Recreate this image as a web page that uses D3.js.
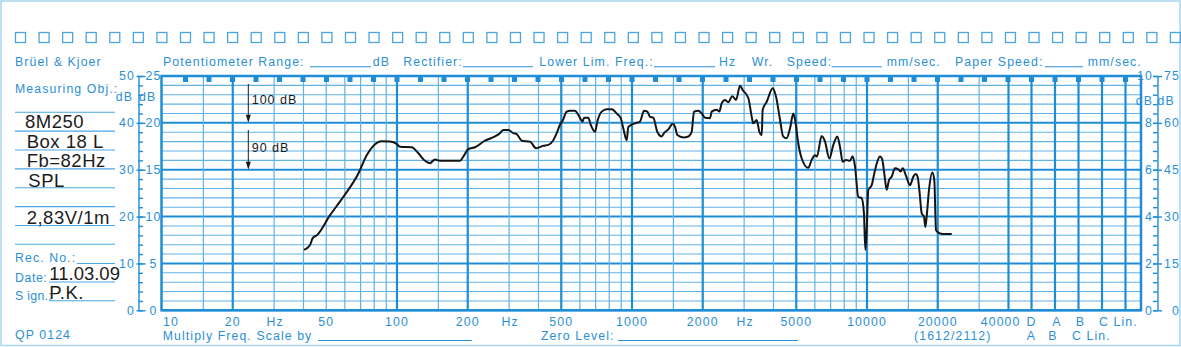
<!DOCTYPE html>
<html>
<head>
<meta charset="utf-8">
<script src="https://cdn.jsdelivr.net/npm/d3@7"></script>
<style>
  html, body { margin: 0; padding: 0; background: #fff; }
  svg { display: block; font-family: "Liberation Sans", Arial, sans-serif; }
  .bl { fill: #2b8fd5; font-size: 12.3px; letter-spacing: 1.1px; }
  .ink { fill: #1b1b1b; }
</style>
</head>
<body>
<svg id="chart" width="1181" height="347"></svg>
<script>
// ---- Measured response: frequency (Hz) and sound pressure level (dB SPL) ----
const freqHz = [
  40.2, 42.6, 43.8, 45.8, 51.9, 59.1, 68.5, 74.3, 79.3, 86.1, 93.3, 99.7, 103, 115.5, 123.3,
  131.6, 138.1, 145.1, 152.4, 185.4, 191.5, 201.2, 214.7, 236.9, 261.2, 274.3, 283.5, 297.6,
  312.6, 323, 339.4, 368.2, 390.4, 419.5, 440.5, 462.4, 478.2, 493.9, 507, 527.3, 544.6, 571.7,
  590.9, 616.7, 624.8, 651.7, 667, 696.1, 712.1, 743.1, 780.4, 819.6, 860.9, 895.4, 918.6, 949.2,
  964.5, 997, 1030, 1082, 1125, 1162, 1193, 1232, 1281, 1338, 1368, 1427, 1490, 1524, 1559, 1653,
  1737, 1795, 1836, 1916, 1980, 2045, 2148, 2183, 2292, 2353, 2408, 2487, 2569, 2672, 2771, 2882,
  2958, 3126, 3232, 3282, 3394, 3482, 3565, 3598, 3743, 3970, 4101, 4266, 4397, 4547, 4703, 4858,
  4944, 5102, 5275, 5625, 5816, 6008, 6119, 6414, 6628, 6914, 7190, 7476, 7674, 7882, 8140, 8466,
  8690, 8892, 9183, 9493, 9706, 9836, 9970, 10129, 10471, 10740, 11060, 11360, 11607, 11846, 12128,
  12405, 12735, 13155, 13591, 13914, 14190, 14655, 15241, 15743, 16108, 16418, 16697, 17094, 17484,
  17705, 17942, 18359, 18967, 19338, 19664, 20112, 21121, 22936
];
const splDb = [
  72.9, 73.9, 75.4, 76.1, 80.3, 84.2, 89.2, 93.1, 95.1, 96.1, 96.0, 95.5, 94.9, 94.8, 93.5,
  91.9, 91.4, 92.2, 91.9, 91.9, 92.8, 94.4, 94.8, 96.2, 97.1, 97.8, 98.5, 98.5,
  97.8, 97.6, 96.2, 96.0, 94.6, 95.1, 95.3, 96.3, 97.8, 99.6, 100.5, 102.4, 102.6, 102.6,
  101.7, 100.3, 101.1, 101.1, 99.6, 98.1, 100.3, 102.4, 102.9, 102.9, 102.0, 101.0, 98.8, 96.3,
  99.1, 99.6, 99.9, 100.3, 102.6, 102.4, 101.3, 101.1, 98.1, 97.1, 97.8, 98.6, 99.8, 99.2, 97.4, 96.9,
  97.1, 98.1, 102.4, 102.6, 102.0, 101.1, 101.0, 102.4, 102.8, 102.4, 104.2, 104.9, 104.4, 105.7, 104.9, 107.9,
  107.0, 105.3, 101.3, 99.9, 100.6, 98.1, 97.4, 102.8, 104.5, 107.4, 105.6, 100.6, 97.1, 96.7, 98.8, 102.0,
  100.6, 95.6, 92.4, 90.4, 92.1, 93.1, 92.8, 97.2, 96.0, 92.4, 95.3, 97.1, 94.9, 91.7, 92.1, 91.9,
  92.9, 90.7, 84.2, 83.9, 80.7, 72.9, 77.1, 85.7, 86.7, 89.2, 91.7, 92.8, 92.2, 89.2, 85.7,
  87.8, 88.5, 90.3, 90.1, 89.6, 90.3, 88.7, 86.7, 88.5, 89.1, 88.5, 85.7, 80.7, 80.0,
  77.8, 80.0, 85.7, 89.4, 87.8, 77.1, 76.6, 76.3, 76.3
];

// ---- Chart paper scales and labels ----
const freqLabels = [10, 20, 50, 100, 200, 500, 1000, 2000, 5000, 10000, 20000, 40000];
const freqMajor = [20, 100, 200, 500, 1000, 2000, 5000, 10000, 20000, 40000];
const decadeSteps = [1, 1.5, 2, 3, 4, 5, 6, 7, 8, 9];
const weightNames = ["D", "A", "B", "C", "Lin."];
const weightLogPos = [4.7, 4.8, 4.9, 5.0, 5.1];
const leftOuterTicks = [0, 10, 20, 30, 40, 50];
const leftInnerTicks = [0, 5, 10, 15, 20, 25];
const rightInnerTicks = [0, 2, 4, 6, 8, 10];
const rightOuterTicks = [0, 15, 30, 45, 60, 75];
const levelMarks = [{ db: 100, label: "100 dB" }, { db: 90, label: "90 dB" }];
const objLines = ["8M250", "Box 18 L", "Fb=82Hz", "SPL", "", "2,83V/1m"];

const BLUE = "#1f8dd6", BLUE_LIGHT = "#62b2e6", TXT = "#2b8fd5", FRAME = "#a9d5f0";

const svg = d3.select("#chart");
const L = 161.5, R = 1141, T = 76, B = 310.3;

const x = d3.scaleLog().domain([10, 100000]).range([162, 1102]);
const yIn = d3.scaleLinear().domain([0, 25]).range([B, T]);
const yOut = d3.scaleLinear().domain([0, 50]).range([B, T]);
const ySpl = d3.scaleLinear().domain([60, 110]).range([B, T]);
const yR1 = d3.scaleLinear().domain([0, 10]).range([B, T]);
const yR2 = d3.scaleLinear().domain([0, 75]).range([B, T]);

// outer frame of the sheet
svg.append("rect").attr("x", 1).attr("y", 1).attr("width", 1179).attr("height", 344.5)
  .attr("fill", "none").attr("stroke", FRAME).attr("stroke-width", 1.5);

// sprocket holes
const holes = d3.range(50);
svg.append("g").selectAll("rect").data(holes).join("rect")
  .attr("x", i => 15.5 + i * 23.57).attr("y", 32.5).attr("width", 10).attr("height", 10)
  .attr("fill", "none").attr("stroke", "#4aa5e0").attr("stroke-width", 1.3);

// ---- grid ----
const grid = svg.append("g");
d3.range(0, 26).forEach(d => {
  const maj = d % 5 === 0;
  grid.append("line").attr("x1", L).attr("x2", R).attr("y1", yIn(d)).attr("y2", yIn(d))
    .attr("stroke", maj ? BLUE : BLUE_LIGHT).attr("stroke-width", maj ? 2 : 1.1);
});
const vFreqs = [];
[10, 100, 1000, 10000].forEach(dec => decadeSteps.forEach(s => {
  const f = dec * s;
  if (f > 10 && f <= 40000) vFreqs.push(f);
}));
vFreqs.forEach(f => {
  const maj = freqMajor.includes(f);
  grid.append("line").attr("x1", x(f)).attr("x2", x(f)).attr("y1", T).attr("y2", B)
    .attr("stroke", maj ? BLUE : BLUE_LIGHT).attr("stroke-width", maj ? 2.2 : 1.2);
});
weightLogPos.forEach(p => {
  grid.append("line").attr("x1", x(10 ** p)).attr("x2", x(10 ** p)).attr("y1", T).attr("y2", B)
    .attr("stroke", BLUE).attr("stroke-width", 2.2);
});
// third-octave marks along the top edge
d3.range(1, 42).forEach(k => {
  const px = x(10 ** (1 + k * 0.1));
  grid.append("rect").attr("x", px - 2.5).attr("y", T).attr("width", 5).attr("height", 6).attr("fill", BLUE);
});
svg.append("rect").attr("x", L).attr("y", T).attr("width", R - L).attr("height", B - T)
  .attr("fill", "none").attr("stroke", BLUE).attr("stroke-width", 2.5);

// ---- level scales left and right ----
const lAx = svg.append("g").attr("transform", "translate(138.5,0)");
lAx.call(d3.axisRight(yIn).tickValues(d3.range(0, 26)).tickSize(4.5).tickSizeOuter(0).tickFormat(""));
lAx.append("g").attr("transform", "translate(-2,0)")
  .call(d3.axisRight(yIn).tickValues(leftInnerTicks).tickSize(9).tickSizeOuter(0).tickFormat(""));
lAx.selectAll("path,line").attr("stroke", BLUE).attr("stroke-width", 1.4);
lAx.selectAll("g > g > path").remove();

const rAx = svg.append("g").attr("transform", "translate(1157.5,0)");
rAx.call(d3.axisLeft(yR1).tickValues(d3.range(0, 10.01, 0.4)).tickSize(4.5).tickSizeOuter(0).tickFormat(""));
rAx.append("g").attr("transform", "translate(4.5,0)")
  .call(d3.axisLeft(yR1).tickValues(rightInnerTicks).tickSize(9).tickSizeOuter(0).tickFormat(""));
rAx.selectAll("path,line").attr("stroke", BLUE).attr("stroke-width", 1.4);
rAx.selectAll("g > g > path").remove();

const txt = (s, px, py, anchor, cls) => svg.append("text").attr("class", cls || "bl")
  .attr("x", px).attr("y", py).attr("text-anchor", anchor || "start").text(s);

leftOuterTicks.forEach(v => txt(String(v), 135, yOut(v) + 4.3, "end"));
leftInnerTicks.forEach(v => txt(String(v), 153.5, yIn(v) + 4.3, "middle"));
txt("dB", 133, 100.5, "end");
txt("dB", 139, 100.5, "start");
rightInnerTicks.forEach(v => txt(String(v), 1153, yR1(v) + 4.3, "end"));
rightOuterTicks.forEach(v => txt(String(v), 1180, yR2(v) + 4.3, "end"));
txt("dB", 1153, 105, "end");
txt("dB", 1157.5, 105, "start");

// ---- header row ----
const line = (x1, x2, y, c) => svg.append("line").attr("x1", x1).attr("x2", x2).attr("y1", y).attr("y2", y)
  .attr("stroke", c || TXT).attr("stroke-width", 1.1);
const hy = 65.7;
txt("Brüel  & Kjoer", 15, hy);
txt("Potentiometer Range:", 163, hy); line(310, 371, hy + 1); txt("dB", 372.7, hy);
txt("Rectifier:", 403.3, hy); line(463, 533, hy + 1);
txt("Lower Lim. Freq.:", 539.3, hy); line(654, 715, hy + 1); txt("Hz", 719, hy);
txt("Wr.", 751.7, hy);
txt("Speed:", 786.7, hy); line(831.7, 881.7, hy + 1); txt("mm/sec.", 886.7, hy);
txt("Paper Speed:", 955, hy); line(1045, 1083, hy + 1); txt("mm/sec.", 1087.7, hy);

// ---- left record panel ----
txt("Measuring Obj.:", 15, 93.3);
d3.range(8).forEach(i => line(15, 115, 112.3 + i * 18.86, "#4aa5e0"));
const objY = [128.3, 147.7, 166.7, 187.3, 0, 224];
const objX = [25, 26.7, 26.7, 28.3, 0, 26.7];
const big = sel => sel.style("font-size", "18.5px").style("letter-spacing", "0.5px");
objLines.forEach((s, i) => {
  if (s) big(txt(s, objX[i], objY[i], "start", "ink"));
});
txt("Rec.  No.:", 15, 262.3); line(77, 115, 263.5, "#4aa5e0");
txt("Date:", 15, 281.7).style("letter-spacing", "0.6px"); line(49, 115, 282, "#4aa5e0");
txt("S ign.:", 15, 300).style("letter-spacing", "0.3px"); line(49, 115, 300.7, "#4aa5e0");
big(txt("11.03.09", 49.3, 280, "start", "ink")).style("letter-spacing", "0px");
big(txt("P.K.", 49.3, 299.3, "start", "ink"));
txt("QP  0124", 15, 339.3);

// ---- frequency labels ----
const by1 = 325.5, by2 = 339.5;
freqLabels.forEach(f => {
  if (f === 10) txt("10", x(10) + 1, by1, "start");
  else if (f === 40000) txt("40000", x(40000) + 12, by1, "end");
  else txt(String(f), x(f), by1, "middle");
});
[30, 300, 3000].forEach(f => txt("Hz", x(f) + 1, by1, "middle"));
const wx = weightLogPos.map(p => x(10 ** p));
txt("D", wx[0], by1, "middle");
txt("A", wx[1] + 2, by1, "middle");
txt("B", wx[2] + 2, by1, "middle");
txt("C Lin.", wx[3] - 3, by1, "start");
txt("A", wx[0], by2, "middle");
txt("B", wx[1] - 2, by2, "middle");
txt("C Lin.", wx[2] - 6.5, by2, "start");
txt("Multiply Freq. Scale by", 162.7, by2); line(318.3, 471.7, by2 + 1);
txt("Zero Level:", 541, by2); line(618, 798, by2 + 1);
txt("(1612/2112)", 914, by2);

// ---- reference level arrows ----
levelMarks.forEach((m, i) => {
  const ax = 248.3, yEnd = ySpl(m.db), yStart = i === 0 ? 84 : 130;
  svg.append("line").attr("x1", ax).attr("x2", ax).attr("y1", yStart).attr("y2", yEnd - 6)
    .attr("stroke", "#1b1b1b").attr("stroke-width", 1);
  svg.append("path").attr("d", `M${ax - 2.5},${yEnd - 8}L${ax + 2.5},${yEnd - 8}L${ax},${yEnd}Z`).attr("fill", "#1b1b1b");
  txt(m.label, 251.7, i === 0 ? 103.5 : 151.7, "start", "ink").style("font-size", "12.5px").style("letter-spacing", "1px");
});

// ---- response curve ----
const pts = freqHz.map((f, i) => [f, splDb[i]]);
svg.append("path").datum(pts)
  .attr("fill", "none").attr("stroke", "#141414").attr("stroke-width", 2).attr("stroke-linejoin", "round")
  .attr("d", d3.line().x(d => x(d[0])).y(d => ySpl(d[1])).curve(d3.curveMonotoneX));
</script>
</body>
</html>
